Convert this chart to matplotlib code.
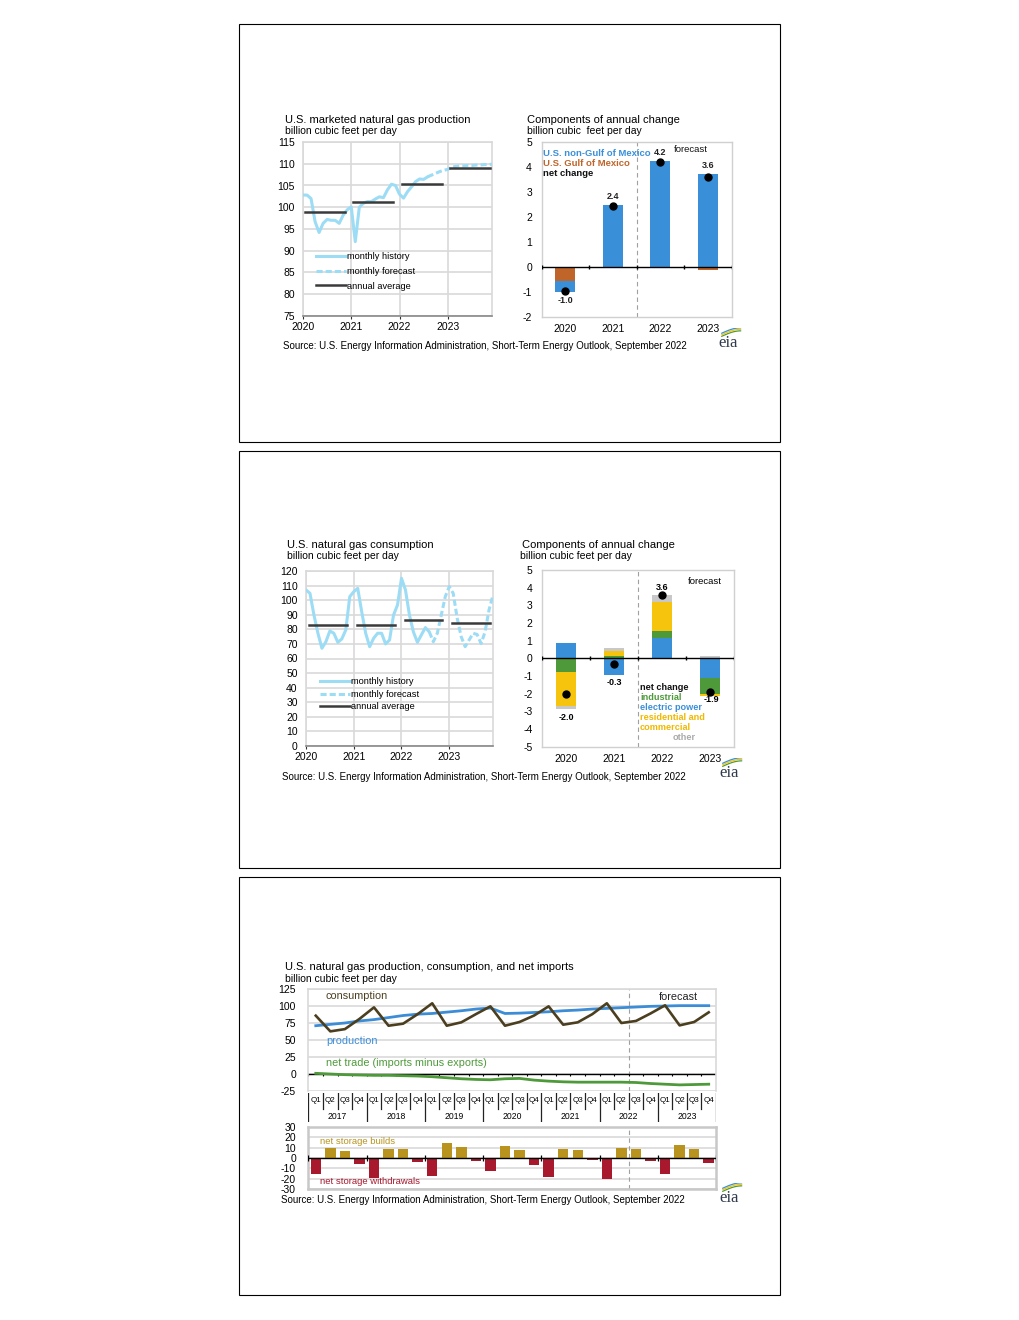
import numpy as np
import matplotlib
matplotlib.use('Agg')
import matplotlib.pyplot as plt
from matplotlib.patches import Rectangle
from matplotlib.lines import Line2D

W, H = 1020, 1320
plt.rcParams['font.family'] = ['Liberation Sans', 'DejaVu Sans']
plt.rcParams['axes.unicode_minus'] = False

# ---------------- data ----------------
year_labels = ['2020', '2021', '2022', '2023']

# U.S. marketed natural gas production, monthly (bcf/d)
prod_history = [102.8, 102.8, 102.0, 96.7, 94.2, 96.3, 97.2, 97.0, 97.0, 96.3, 98.2, 99.4,
                100.1, 92.1, 100.0, 100.9, 101.3, 101.3, 101.9, 102.4, 102.2, 104.0, 105.3, 105.0,
                103.0, 102.1, 103.6, 104.7, 105.9, 106.5, 106.4, 107.0]
prod_forecast = [107.0, 107.4, 107.8, 108.2, 108.5, 108.7, 109.2, 109.4, 109.5, 109.5,
                 109.6, 109.6, 109.7, 109.7, 109.8, 109.8, 109.9]
prod_annual = [98.9, 101.1, 105.4, 109.0]

# components of annual change in production
prod_gom = [-0.58, -0.05, -0.02, -0.12]
prod_non_gom = [-0.42, 2.47, 4.22, 3.70]
prod_net = [-0.99, 2.42, 4.20, 3.57]
prod_net_labels = ['-1.0', '2.4', '4.2', '3.6']

# U.S. natural gas consumption, monthly (bcf/d)
cons_history = [107.0, 104.7, 89.8, 77.3, 67.0, 71.5, 78.9, 77.3, 71.1, 73.4, 79.6, 102.4,
                105.8, 108.1, 92.1, 77.3, 68.1, 73.9, 77.3, 77.3, 70.0, 72.7, 89.8, 96.7,
                115.0, 107.0, 89.8, 78.2, 71.1, 76.2, 81.2, 78.2]
cons_forecast = [78.2, 71.5, 77.3, 89.8, 102.4, 109.3, 104.7, 87.6, 75.0, 68.1, 72.7,
                 77.3, 76.5, 70.3, 78.2, 93.3, 103.5]
cons_annual = [83.0, 83.0, 86.4, 84.1]

# components of annual change in consumption
cons_electric = [0.85, -0.93, 1.17, -1.12]
cons_industrial = [-0.75, 0.12, 0.40, -0.87]
cons_rescom = [-1.95, 0.30, 1.63, -0.13]
cons_other = [-0.17, 0.17, 0.38, 0.12]
cons_net = [-2.02, -0.34, 3.57, -1.90]
cons_net_labels = ['-2.0', '-0.3', '3.6', '-1.9']

# quarterly balance 2017-2023
q_years = ['2017', '2018', '2019', '2020', '2021', '2022', '2023']
q_names = ['Q1', 'Q2', 'Q3', 'Q4']
q_consumption = [85.8, 62.7, 66.0, 81.0, 98.0, 71.0, 74.0, 88.0, 104.0, 71.0, 76.0, 88.0,
                 99.5, 71.0, 76.5, 86.0, 99.5, 72.5, 76.0, 88.0, 104.0, 75.0, 78.0, 89.0,
                 101.0, 71.5, 76.5, 90.7]
q_production = [71.0, 73.0, 75.0, 78.0, 80.0, 83.0, 86.0, 88.0, 89.0, 91.0, 93.0, 95.5,
                97.0, 89.0, 89.5, 90.5, 91.5, 93.0, 94.0, 95.5, 96.5, 97.5, 98.5, 99.5,
                100.0, 100.5, 100.5, 100.5]
q_net_trade = [1.0, 0.0, -1.0, -1.5, -2.0, -2.0, -2.5, -3.0, -4.0, -5.5, -7.0, -8.0,
               -8.5, -7.0, -6.5, -9.0, -10.5, -11.5, -12.0, -12.0, -12.0, -12.0, -12.5, -14.0,
               -15.0, -16.0, -15.5, -15.0]
q_storage = [-15.0, 10.0, 7.0, -6.0, -19.0, 9.0, 9.0, -3.5, -17.6, 14.4, 10.6, -3.0,
             -13.0, 11.5, 7.7, -6.4, -18.0, 9.0, 8.0, -1.6, -20.8, 10.0, 9.0, -3.0,
             -15.0, 12.5, 9.0, -4.5]
forecast_start_q = 21.5

# ---------------- styles ----------------
LB = '#9DDCF5'
AVG = '#3A3A3A'
BLUE = '#3A8FD9'
BROWN = '#C0652A'
GREEN = '#4E9A3A'
YELLOW = '#F6C40C'
GREYB = '#C8C8C8'
GRID = '#D9D9D9'
CONS = '#4B3F20'
GOLD = '#B8941F'
CRIM = '#A8192E'
SRC = 'Source: U.S. Energy Information Administration, Short-Term Energy Outlook, September 2022'
TICK = 7.5

fig = plt.figure(figsize=(W / 100, H / 100), dpi=100)


def ax_px(x0, y0, x1, y1):
    return fig.add_axes([x0 / W, 1 - y1 / H, (x1 - x0) / W, (y1 - y0) / H])


def ftxt(x, y, s, **kw):
    kw.setdefault('va', 'center')
    kw.setdefault('ha', 'left')
    fig.text(x / W, 1 - y / H, s, **kw)


def eia_logo(xc, yc):
    a = ax_px(xc - 16, yc - 14, xc + 16, yc + 8)
    a.set_xlim(0, 1)
    a.set_ylim(0, 1)
    a.axis('off')
    a.text(0.5, 0.3, 'eia', family=['Liberation Serif', 'DejaVu Serif'], size=12,
           color='#2F3B4C', ha='center', va='center')
    t = np.linspace(0, 1, 30)
    for off, c in [(0.0, '#4E9A3A'), (0.07, '#F6C40C'), (0.14, '#3A8FD9')]:
        a.plot(0.3 + 0.6 * t, 0.62 + off + 0.25 * np.sin(t * np.pi / 2),
               color=c, lw=0.9, solid_capstyle='round')


# boxes
for (x0, y0, x1, y1) in [(239, 24, 780, 442), (239, 451, 780, 868), (239, 877, 780, 1295)]:
    fig.add_artist(Rectangle((x0 / W, 1 - y1 / H), (x1 - x0) / W, (y1 - y0) / H,
                             transform=fig.transFigure, fill=False, ec='black', lw=0.8))


def style_line_axes(ax):
    ax.grid(True, color=GRID, lw=1.2)
    ax.set_axisbelow(True)
    for s in ax.spines.values():
        s.set_color(GRID)
        s.set_linewidth(1.2)
    ax.spines['bottom'].set_color('#888888')
    ax.tick_params(axis='y', length=0, pad=6, labelsize=TICK)
    ax.tick_params(axis='x', length=2.5, pad=2, labelsize=TICK, color='#333333')


def diverging_stack(ax, series, colors, width):
    x = np.arange(len(series[0]))
    pos = np.zeros(len(x))
    neg = np.zeros(len(x))
    for vals, c in zip(series, colors):
        v = np.array(vals)
        base = np.where(v >= 0, pos, neg)
        ax.bar(x, v, width, bottom=base, color=c, zorder=2)
        pos = pos + np.where(v >= 0, v, 0)
        neg = neg + np.where(v < 0, v, 0)
    return x


def style_bar_axes(ax, ylo, yhi):
    ax.set_xlim(-0.5, 3.5)
    ax.set_ylim(ylo, yhi)
    ax.set_yticks(range(ylo, yhi + 1))
    ax.set_xticks(range(4))
    ax.set_xticklabels(year_labels)
    for s in ax.spines.values():
        s.set_color('#D0D0D0')
        s.set_linewidth(1.0)
    ax.tick_params(axis='y', length=0, pad=7, labelsize=TICK)
    ax.tick_params(axis='x', length=0, pad=5, labelsize=TICK)
    ax.axhline(0, color='black', lw=1.0, zorder=3)
    tick_h = (yhi - ylo) * 0.012
    ax.vlines(np.arange(-0.5, 4.0, 1.0), -tick_h, tick_h, color='black', lw=1.0, zorder=3)
    ax.axvline(1.5, color='#A0A0A0', lw=0.8, ls=(0, (4, 3)), zorder=1)


# ================= Panel 1 =================
ftxt(285, 120, 'U.S. marketed natural gas production', size=8)
ftxt(285, 131, 'billion cubic feet per day', size=7.5)
ax1 = ax_px(303, 142, 492, 316)
m = np.arange(48)
ax1.plot(m[:len(prod_history)], prod_history, color=LB, lw=2.2, solid_capstyle='round', zorder=3)
ax1.plot(m[len(prod_history) - 1:], prod_forecast, color=LB, lw=2.2, dashes=(2, 1), zorder=3)
for k, v in enumerate(prod_annual):
    ax1.plot([12 * k + 0.5, 12 * k + 10.5], [v, v], color=AVG, lw=1.8, zorder=4)
ax1.set_xlim(0, 47)
ax1.set_ylim(75, 115)
ax1.set_yticks(range(75, 116, 5))
ax1.set_xticks([0, 12, 24, 36])
ax1.set_xticklabels(year_labels)
style_line_axes(ax1)
handles = [Line2D([], [], color=LB, lw=2.2),
           Line2D([], [], color=LB, lw=2.2, dashes=(2, 1)),
           Line2D([], [], color=AVG, lw=1.8)]
ax1.legend(handles, ['monthly history', 'monthly forecast', 'annual average'],
           loc='upper left', bbox_to_anchor=(0.07, 0.365), frameon=False, fontsize=6.7,
           borderpad=0, borderaxespad=0, handlelength=3.2, handletextpad=0.1, labelspacing=0.6)

ftxt(527, 120, 'Components of annual change', size=8)
ftxt(527, 131, 'billion cubic  feet per day', size=7.5)
ax2 = ax_px(541.7, 141.7, 731.7, 316.7)
x = diverging_stack(ax2, [prod_gom, prod_non_gom], [BROWN, BLUE], 0.42)
ax2.plot(x, prod_net, 'o', color='black', ms=5, zorder=5)
style_bar_axes(ax2, -2, 5)
for i, (v, lab) in enumerate(zip(prod_net, prod_net_labels)):
    yy = v - 0.38 if v < 0 else max(v, prod_non_gom[i]) + 0.35
    ax2.text(i, yy, lab, ha='center', va='center', size=6.5, fontweight='bold', color='#222222')
ftxt(674, 149, 'forecast', size=6.8, color='#111111')
ftxt(543, 154, 'U.S. non-Gulf of Mexico', size=6.8, color=BLUE, fontweight='bold')
ftxt(543, 164, 'U.S. Gulf of Mexico', size=6.8, color=BROWN, fontweight='bold')
ftxt(543, 174, 'net change', size=6.8, color='#111111', fontweight='bold')
ftxt(283, 346, SRC, size=7)
eia_logo(728, 342)

# ================= Panel 2 =================
ftxt(287, 545, 'U.S. natural gas consumption', size=8)
ftxt(287, 556, 'billion cubic feet per day', size=7.5)
ax3 = ax_px(306, 571, 493, 746)
ax3.plot(m[:len(cons_history)], cons_history, color=LB, lw=2.2, solid_capstyle='round', zorder=3)
ax3.plot(m[len(cons_history) - 1:], cons_forecast, color=LB, lw=2.2, dashes=(2, 1), zorder=3)
for k, v in enumerate(cons_annual):
    ax3.plot([12 * k + 0.8, 12 * k + 10.3], [v, v], color=AVG, lw=1.8, zorder=4)
ax3.set_xlim(0, 47)
ax3.set_ylim(0, 120)
ax3.set_yticks(range(0, 121, 10))
ax3.set_xticks([0, 12, 24, 36])
ax3.set_xticklabels(year_labels)
style_line_axes(ax3)
ax3.legend(handles, ['monthly history', 'monthly forecast', 'annual average'],
           loc='upper left', bbox_to_anchor=(0.075, 0.394), frameon=False, fontsize=6.7,
           borderpad=0, borderaxespad=0, handlelength=3.2, handletextpad=0.1, labelspacing=0.4)

ftxt(522, 545, 'Components of annual change', size=8)
ftxt(520, 556, 'billion cubic feet per day', size=7.5)
ax4 = ax_px(542.3, 570, 734.3, 746.7)
x = diverging_stack(ax4, [cons_electric, cons_industrial, cons_rescom, cons_other],
                    [BLUE, GREEN, YELLOW, GREYB], 0.42)
ax4.plot(x, cons_net, 'o', color='black', ms=5, zorder=5)
style_bar_axes(ax4, -5, 5)
comp = [cons_electric, cons_industrial, cons_rescom, cons_other]
pos_tot = [sum(max(s[i], 0) for s in comp) for i in range(4)]
neg_tot = [sum(min(s[i], 0) for s in comp) for i in range(4)]
for i, lab in enumerate(cons_net_labels):
    if i == 2:
        ax4.text(i, pos_tot[i] + 0.45, lab, ha='center', va='center', size=6.5, fontweight='bold')
    elif i == 3:
        ax4.text(i + 0.02, cons_net[i] - 0.45, lab, ha='center', va='center', size=6.5, fontweight='bold')
    else:
        ax4.text(i, neg_tot[i] - 0.45, lab, ha='center', va='center', size=6.5, fontweight='bold')
ftxt(688, 581, 'forecast', size=6.8)
ftxt(640, 687, 'net change', size=6.6, color='#111111', fontweight='bold')
ftxt(640, 697, 'industrial', size=6.6, color=GREEN, fontweight='bold')
ftxt(640, 707, 'electric power', size=6.6, color=BLUE, fontweight='bold')
ftxt(640, 717, 'residential and', size=6.6, color='#F0B800', fontweight='bold')
ftxt(640, 727, 'commercial', size=6.6, color='#F0B800', fontweight='bold')
ftxt(673, 737, 'other', size=6.6, color='#AAAAAA', fontweight='bold')
ftxt(282, 777, SRC, size=7)
eia_logo(729, 772)

# ================= Panel 3 =================
ftxt(285, 967, 'U.S. natural gas production, consumption, and net imports', size=8)
ftxt(285, 979, 'billion cubic feet per day', size=7.5)
ax5 = ax_px(308.5, 989, 716, 1091)
qx = np.arange(len(q_consumption))
ax5.plot(qx, q_production, color='#3C8DD6', lw=2.0, zorder=3)
ax5.plot(qx, q_consumption, color=CONS, lw=1.9, zorder=4)
ax5.plot(qx, q_net_trade, color=GREEN, lw=2.0, zorder=3)
ax5.set_xlim(-0.5, 27.5)
ax5.set_ylim(-25, 125)
ax5.set_yticks(range(-25, 126, 25))
ax5.set_xticks([])
ax5.grid(True, axis='y', color=GRID, lw=1.2)
ax5.set_axisbelow(True)
for s in ax5.spines.values():
    s.set_color(GRID)
    s.set_linewidth(1.2)
ax5.spines['bottom'].set_visible(False)
ax5.tick_params(axis='y', length=0, pad=9, labelsize=TICK)
ax5.axhline(0, color='black', lw=1.0, zorder=2)
ax5.vlines(np.arange(-0.5, 28, 1.0), -2.5, 0, color='black', lw=0.8, zorder=2)
ax5.axvline(forecast_start_q, color='#A0A0A0', lw=0.8, ls=(0, (4, 3)), zorder=1)
ftxt(326, 996, 'consumption', size=7.8, color=CONS)
ftxt(326, 1041, 'production', size=7.8, color='#3C8DD6')
ftxt(326, 1063, 'net trade (imports minus exports)', size=7.8, color=GREEN)
ftxt(659, 997, 'forecast', size=7.8, color='#222222')

# quarter / year label strip
axq = ax_px(308.5, 1093, 716, 1122)
axq.set_xlim(-0.5, 27.5)
axq.set_ylim(0, 1)
axq.axis('off')
nq = len(q_consumption)
for b in np.arange(-0.5, nq, 1.0):
    if (b + 0.5) % 4 == 0:
        axq.plot([b, b], [0, 1], color='#222222', lw=0.9)
    else:
        axq.plot([b, b], [0.45, 1], color='#222222', lw=0.9)
for i in range(nq):
    axq.text(i, 0.73, q_names[i % 4], ha='center', va='center', size=5.8)
for k, yl in enumerate(q_years):
    axq.text(4 * k + 1.5, 0.2, yl, ha='center', va='center', size=6.2)

# storage chart
ax6 = ax_px(308.5, 1127, 716, 1189)
sv = np.array(q_storage)
ax6.bar(qx, np.where(sv > 0, sv, 0), 0.72, color=GOLD, zorder=2)
ax6.bar(qx, np.where(sv < 0, sv, 0), 0.72, color=CRIM, zorder=2)
ax6.set_xlim(-0.5, 27.5)
ax6.set_ylim(-30, 30)
ax6.set_yticks(range(-30, 31, 10))
ax6.set_xticks([])
ax6.grid(True, axis='y', color=GRID, lw=1.2)
ax6.set_axisbelow(True)
for s in ax6.spines.values():
    s.set_color('#C8C8C8')
    s.set_linewidth(1.8)
ax6.tick_params(axis='y', length=0, pad=9, labelsize=TICK)
ax6.axhline(0, color='black', lw=1.0, zorder=3)
ax6.vlines(np.arange(-0.5, 28, 4.0), -2.5, 2.5, color='black', lw=0.9, zorder=3)
ax6.axvline(forecast_start_q, color='#A0A0A0', lw=0.8, ls=(0, (4, 3)), zorder=1)
ftxt(320, 1141, 'net storage builds', size=6.8, color=GOLD)
ftxt(320, 1182, 'net storage withdrawals', size=6.8, color=CRIM)
ftxt(281, 1200, SRC, size=7)
eia_logo(729, 1197)

fig.savefig('out.png', dpi=100)
